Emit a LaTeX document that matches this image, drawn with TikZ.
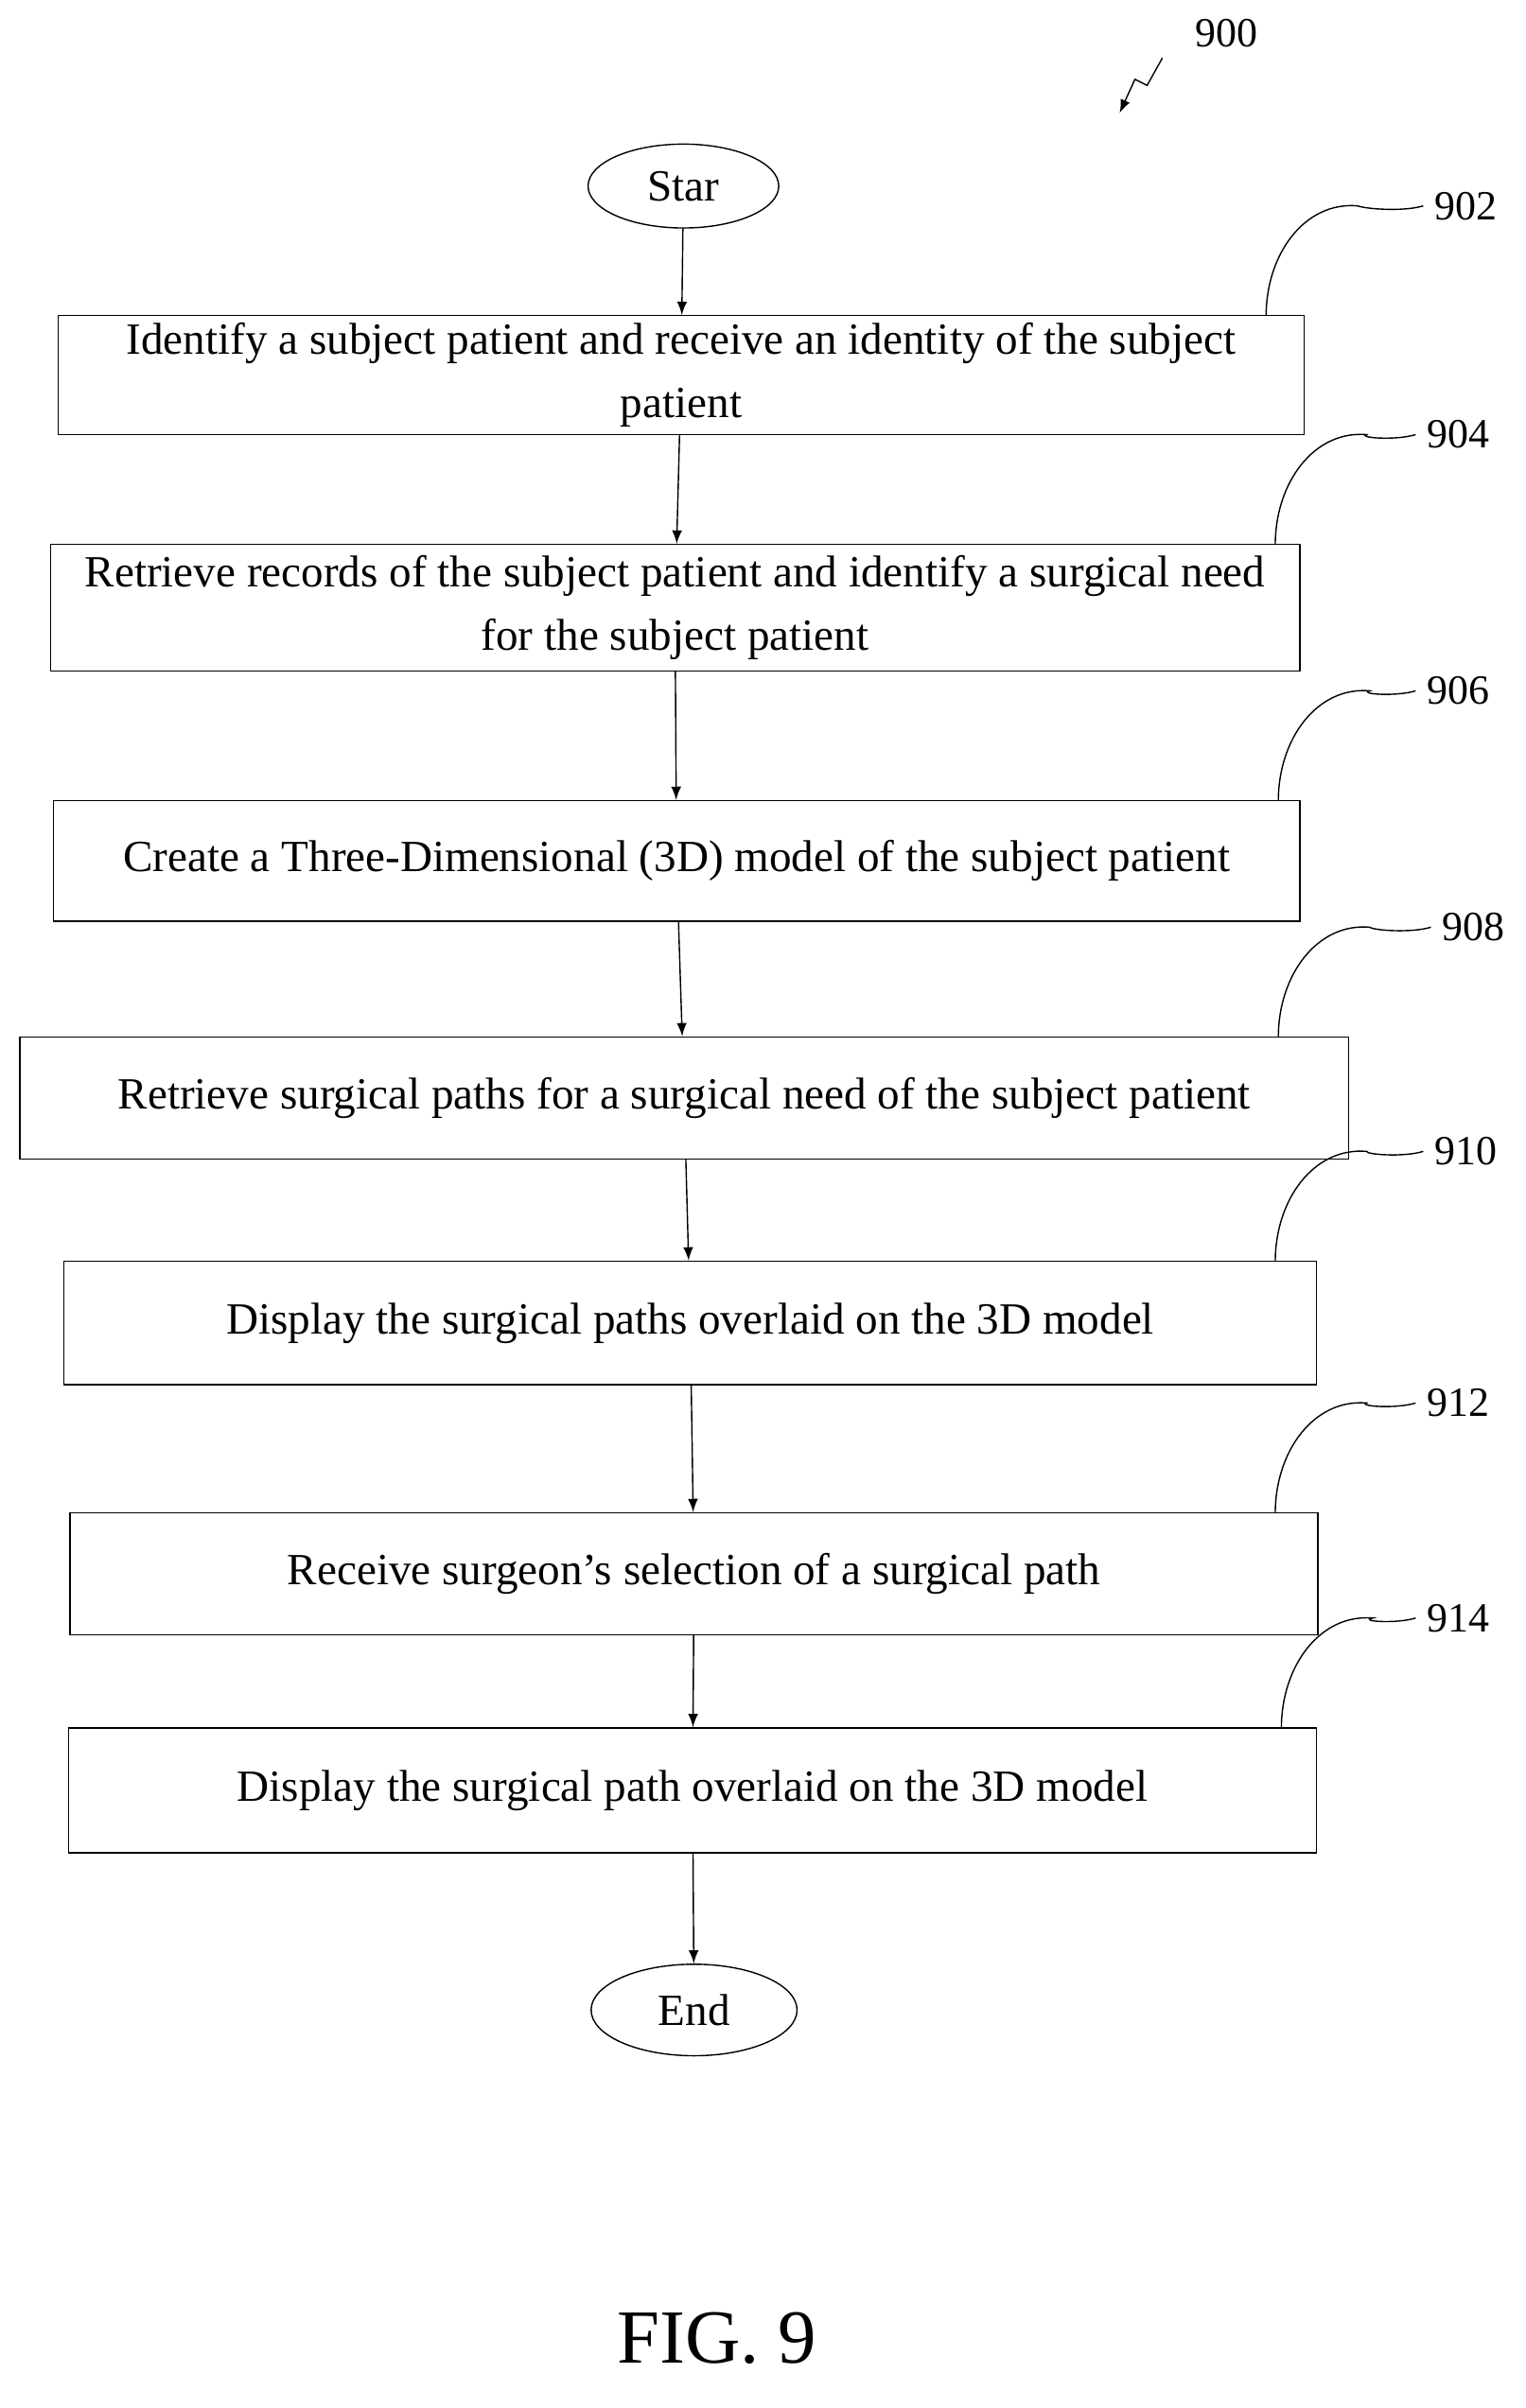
\documentclass[tikz,border=0pt]{standalone}
\usepackage{fontspec}
\setmainfont{Liberation Serif}
\usetikzlibrary{arrows,positioning,shapes.geometric}

\begin{document}
\begin{tikzpicture}
		[x=0.01612cm,y=-0.01612cm,
		step box/.style={draw,rectangle,inner sep=0pt,align=center,font=\fontsize{13.4}{19}\selectfont},
		term node/.style={draw,ellipse,inner sep=0pt,font=\fontsize{13.4}{16}\selectfont},
		ref label/.style={font=\fontsize{12.5}{15}\selectfont,anchor=west},
		flow/.style={-latex}]
		\useasboundingbox (0,0) rectangle (1000,1579);
		
		\node[ref label] (fig) at (776,22) {900};
		\coordinate (z1) at (762,38);
		\coordinate (z2) at (734,74);
		\draw[-latex] (z1) -- (752,56) -- (744,52) -- (z2);
		
		\node[term node,minimum width={125*0.01612cm},minimum height={55*0.01612cm}] (start) at (448,122) {Star};
		
		\node[step box,minimum width={817*0.01612cm},minimum height={78*0.01612cm}] (s902) at (446.5,246) {Identify a subject patient and receive an identity of the subject\\patient};
		\node[step box,minimum width={819*0.01612cm},minimum height={83*0.01612cm}] (s904) at (442.5,398.5) {Retrieve records of the subject patient and identify a surgical need\\for the subject patient};
		\node[step box,minimum width={817*0.01612cm},minimum height={79*0.01612cm}] (s906) at (443.5,564.5) {Create a Three-Dimensional (3D) model of the subject patient};
		\node[step box,minimum width={871*0.01612cm},minimum height={80*0.01612cm}] (s908) at (448.5,720) {Retrieve surgical paths for a surgical need of the subject patient};
		\node[step box,minimum width={821*0.01612cm},minimum height={81*0.01612cm}] (s910) at (452.5,867.5) {Display the surgical paths overlaid on the 3D model};
		\node[step box,minimum width={818*0.01612cm},minimum height={80*0.01612cm}] (s912) at (455,1032) {Receive surgeon’s selection of a surgical path};
		\node[step box,minimum width={818*0.01612cm},minimum height={82*0.01612cm}] (s914) at (454,1174) {Display the surgical path overlaid on the 3D model};
		
		\node[term node,minimum width={135*0.01612cm},minimum height={60*0.01612cm}] (end) at (455,1318) {End};
		
		\draw[flow] (start) -- (s902);
		\draw[flow] (s902) -- (s904);
		\draw[flow] (s904) -- (s906);
		\draw[flow] (s906) -- (s908);
		\draw[flow] (s908) -- (s910);
		\draw[flow] (s910) -- (s912);
		\draw[flow] (s912) -- (s914);
		\draw[flow] (s914) -- (end);
		
		% reference numerals
		\foreach \s/\t/\xa/\xb in {902/207/830/935,904/357/836/930,906/525/838/930,908/680/838/940,910/827/836/935,912/992/836/930,914/1133/840/930}{
			\node[ref label] (r\s) at (\xb-2,\t-72) {\s};
			\draw (\xa,\t) .. controls (\xa,\t-40) and (\xa+25,\t-75) .. (\xa+60,\t-72) .. controls (\xb-40,\t-70) and (\xb-15,\t-68) .. (r\s.west);
		}
		
		\node[font=\fontsize{23}{27}\selectfont] (title) at (470,1533) {FIG. 9};
		\end{tikzpicture}
\end{document}
